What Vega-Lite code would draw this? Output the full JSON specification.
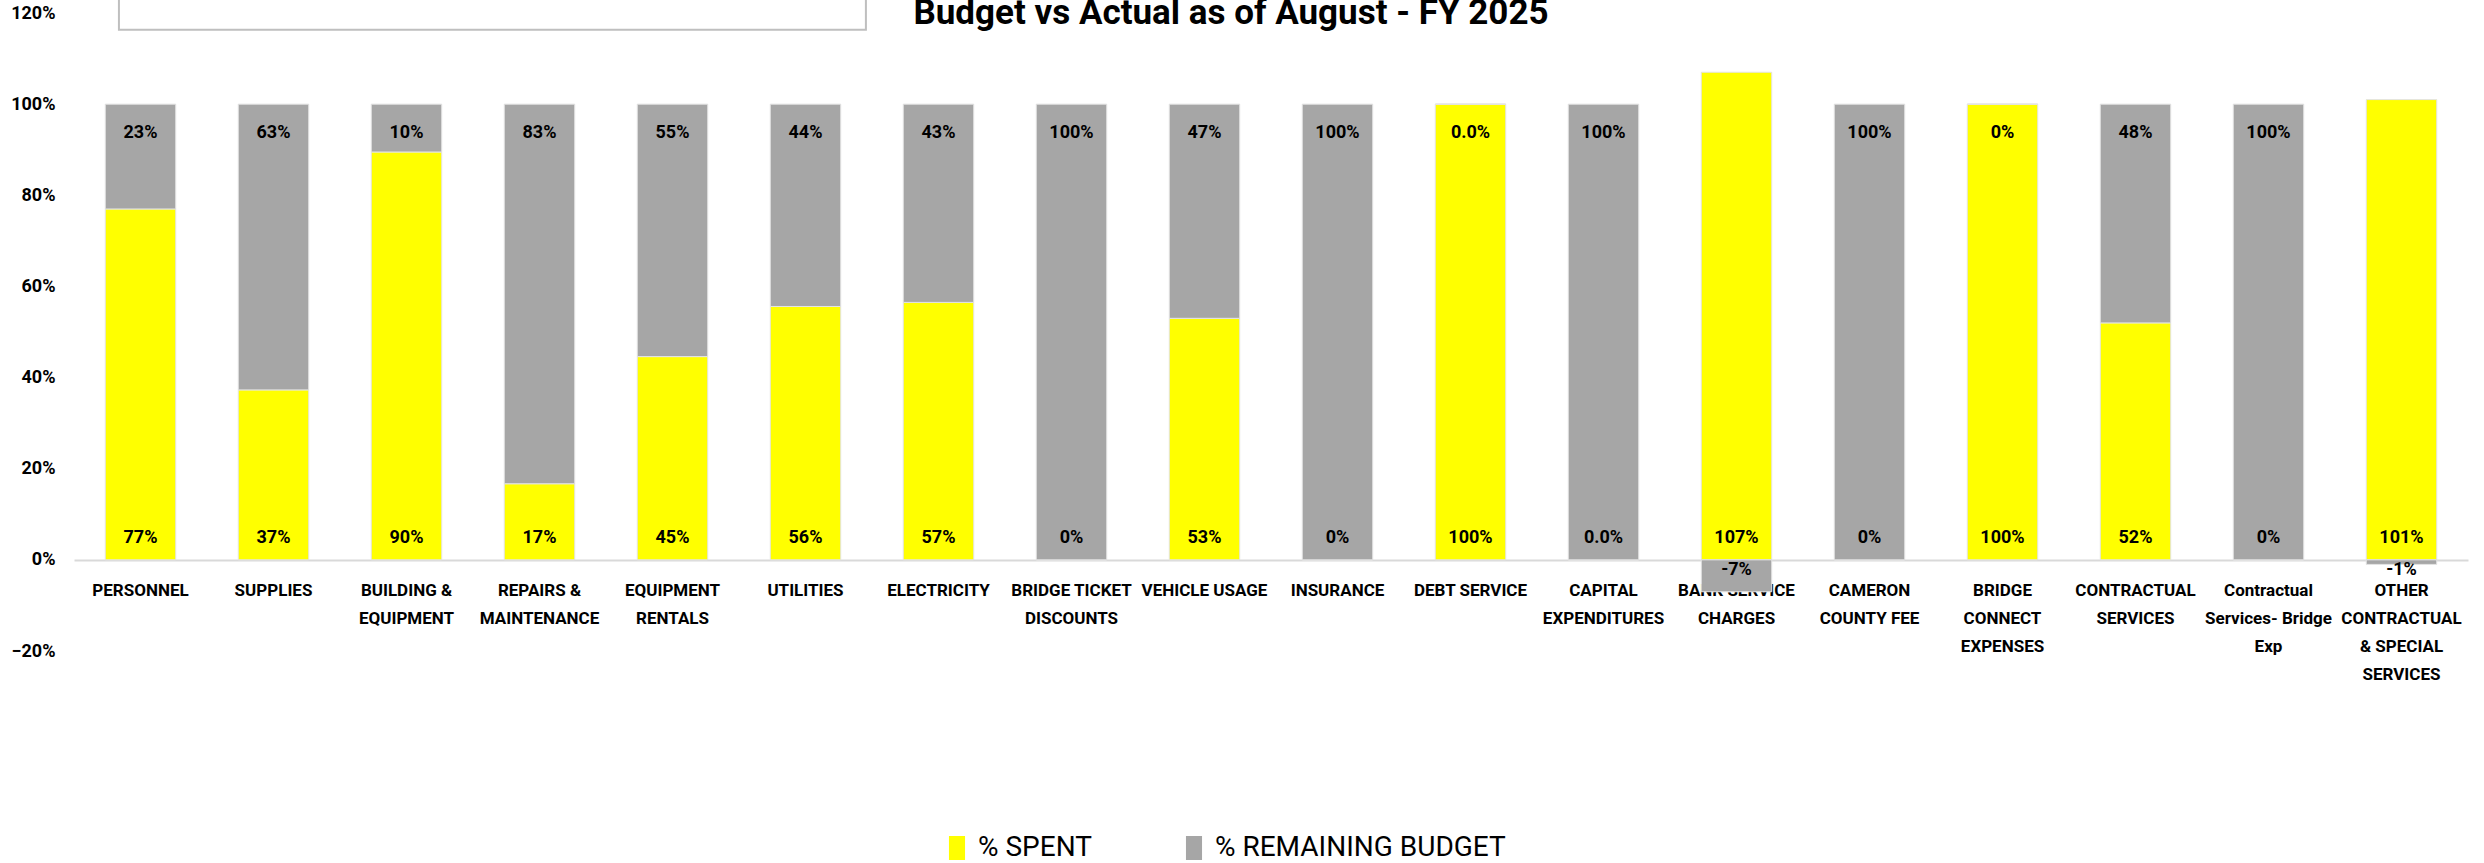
{
  "$schema": "https://vega.github.io/schema/vega-lite/v6.json",
  "width": 2394,
  "height": 638,
  "autosize": {"type": "none"},
  "padding": {"left": 74, "top": 13, "right": 16, "bottom": 212},
  "background": "white",
  "title": {
    "text": "Budget vs Actual as of August - FY 2025",
    "font": "Roboto",
    "fontSize": 35,
    "fontWeight": "bold",
    "color": "#000000",
    "anchor": "middle",
    "frame": "group",
    "dx": -40,
    "baseline": "alphabetic",
    "offset": 0,
    "dy": 65
  },
  "config": {"view": {"stroke": null}, "font": "Roboto"},
  "data": {
    "values": [
      {"category": "PERSONNEL", "series": "% SPENT", "value": 0.77, "label": "77%"},
      {"category": "PERSONNEL", "series": "% REMAINING BUDGET", "value": 0.23, "label": "23%"},
      {"category": "SUPPLIES", "series": "% SPENT", "value": 0.373, "label": "37%"},
      {"category": "SUPPLIES", "series": "% REMAINING BUDGET", "value": 0.627, "label": "63%"},
      {"category": "BUILDING & EQUIPMENT", "series": "% SPENT", "value": 0.895, "label": "90%"},
      {"category": "BUILDING & EQUIPMENT", "series": "% REMAINING BUDGET", "value": 0.105, "label": "10%"},
      {"category": "REPAIRS & MAINTENANCE", "series": "% SPENT", "value": 0.167, "label": "17%"},
      {"category": "REPAIRS & MAINTENANCE", "series": "% REMAINING BUDGET", "value": 0.833, "label": "83%"},
      {"category": "EQUIPMENT RENTALS", "series": "% SPENT", "value": 0.446, "label": "45%"},
      {"category": "EQUIPMENT RENTALS", "series": "% REMAINING BUDGET", "value": 0.554, "label": "55%"},
      {"category": "UTILITIES", "series": "% SPENT", "value": 0.556, "label": "56%"},
      {"category": "UTILITIES", "series": "% REMAINING BUDGET", "value": 0.444, "label": "44%"},
      {"category": "ELECTRICITY", "series": "% SPENT", "value": 0.565, "label": "57%"},
      {"category": "ELECTRICITY", "series": "% REMAINING BUDGET", "value": 0.435, "label": "43%"},
      {"category": "BRIDGE TICKET DISCOUNTS", "series": "% SPENT", "value": 0, "label": "0%"},
      {"category": "BRIDGE TICKET DISCOUNTS", "series": "% REMAINING BUDGET", "value": 1, "label": "100%"},
      {"category": "VEHICLE USAGE", "series": "% SPENT", "value": 0.53, "label": "53%"},
      {"category": "VEHICLE USAGE", "series": "% REMAINING BUDGET", "value": 0.47, "label": "47%"},
      {"category": "INSURANCE", "series": "% SPENT", "value": 0, "label": "0%"},
      {"category": "INSURANCE", "series": "% REMAINING BUDGET", "value": 1, "label": "100%"},
      {"category": "DEBT SERVICE", "series": "% SPENT", "value": 1, "label": "100%"},
      {"category": "DEBT SERVICE", "series": "% REMAINING BUDGET", "value": 0, "label": "0.0%"},
      {"category": "CAPITAL EXPENDITURES", "series": "% SPENT", "value": 0, "label": "0.0%"},
      {"category": "CAPITAL EXPENDITURES", "series": "% REMAINING BUDGET", "value": 1, "label": "100%"},
      {"category": "BANK SERVICE CHARGES", "series": "% SPENT", "value": 1.07, "label": "107%"},
      {"category": "BANK SERVICE CHARGES", "series": "% REMAINING BUDGET", "value": -0.07, "label": "-7%"},
      {"category": "CAMERON COUNTY FEE", "series": "% SPENT", "value": 0, "label": "0%"},
      {"category": "CAMERON COUNTY FEE", "series": "% REMAINING BUDGET", "value": 1, "label": "100%"},
      {"category": "BRIDGE CONNECT EXPENSES", "series": "% SPENT", "value": 1, "label": "100%"},
      {"category": "BRIDGE CONNECT EXPENSES", "series": "% REMAINING BUDGET", "value": 0, "label": "0%"},
      {"category": "CONTRACTUAL SERVICES", "series": "% SPENT", "value": 0.52, "label": "52%"},
      {"category": "CONTRACTUAL SERVICES", "series": "% REMAINING BUDGET", "value": 0.48, "label": "48%"},
      {"category": "Contractual Services- Bridge Exp", "series": "% SPENT", "value": 0, "label": "0%"},
      {"category": "Contractual Services- Bridge Exp", "series": "% REMAINING BUDGET", "value": 1, "label": "100%"},
      {"category": "OTHER CONTRACTUAL & SPECIAL SERVICES", "series": "% SPENT", "value": 1.01, "label": "101%"},
      {"category": "OTHER CONTRACTUAL & SPECIAL SERVICES", "series": "% REMAINING BUDGET", "value": -0.01, "label": "-1%"}
    ]
  },
  "encoding": {
    "x": {
      "field": "category",
      "type": "nominal",
      "sort": null,
      "scale": {"paddingInner": 0.47, "paddingOuter": 0.235},
      "axis": {
        "title": null,
        "orient": "bottom",
        "offset": -91,
        "domainColor": "#d9d9d9",
        "domainWidth": 2,
        "ticks": false,
        "grid": false,
        "labelAngle": 0,
        "labelFont": "Roboto",
        "labelFontSize": 17,
        "labelFontWeight": "bold",
        "labelColor": "#000000",
        "labelPadding": 22,
        "labelLineHeight": 28,
        "labelLimit": 0,
        "labelBaseline": "top",
        "labelExpr": "({'BUILDING & EQUIPMENT':['BUILDING &','EQUIPMENT'],'REPAIRS & MAINTENANCE':['REPAIRS &','MAINTENANCE'],'EQUIPMENT RENTALS':['EQUIPMENT','RENTALS'],'BRIDGE TICKET DISCOUNTS':['BRIDGE TICKET','DISCOUNTS'],'CAPITAL EXPENDITURES':['CAPITAL','EXPENDITURES'],'BANK SERVICE CHARGES':['BANK SERVICE','CHARGES'],'CAMERON COUNTY FEE':['CAMERON','COUNTY FEE'],'BRIDGE CONNECT EXPENSES':['BRIDGE','CONNECT','EXPENSES'],'CONTRACTUAL SERVICES':['CONTRACTUAL','SERVICES'],'Contractual Services- Bridge Exp':['Contractual','Services- Bridge','Exp'],'OTHER CONTRACTUAL & SPECIAL SERVICES':['OTHER','CONTRACTUAL','& SPECIAL','SERVICES']})[datum.value] || datum.label"
      }
    }
  },
  "layer": [
    {
      "mark": {"type": "bar", "stroke": "#e4e4e4", "strokeWidth": 1},
      "encoding": {
        "y": {
          "field": "value",
          "type": "quantitative",
          "stack": "zero",
          "scale": {"domain": [-0.2, 1.2], "nice": false, "zero": false},
          "axis": {
            "title": null,
            "values": [-0.2, 0, 0.2, 0.4, 0.6, 0.8, 1, 1.2],
            "format": ".0%",
            "domain": false,
            "ticks": false,
            "grid": false,
            "labelFont": "Roboto",
            "labelFontSize": 18,
            "labelFontWeight": "bold",
            "labelColor": "#000000",
            "labelPadding": 19
          }
        },
        "color": {
          "field": "series",
          "type": "nominal",
          "scale": {"domain": ["% SPENT", "% REMAINING BUDGET"], "range": ["#FFFF00", "#A6A6A6"]},
          "legend": {
            "orient": "none",
            "legendX": 869,
            "legendY": 821,
            "title": null,
            "direction": "horizontal",
            "labelFont": "Roboto",
            "labelFontSize": 28,
            "labelColor": "#000000",
            "labelLimit": 0,
            "symbolType": "M-0.67,-1H0.67V1H-0.67Z",
            "symbolSize": 576,
            "symbolStrokeWidth": 0,
            "symbolOpacity": 1,
            "columnPadding": 88,
            "labelOffset": 7
          }
        },
        "order": {"field": "series", "sort": "descending"}
      }
    },
    {
      "transform": [{"filter": "datum.series === '% SPENT'"}],
      "mark": {"type": "text", "dy": -22, "baseline": "middle", "font": "Roboto", "fontSize": 18, "fontWeight": "bold", "color": "#000000"},
      "encoding": {"y": {"datum": 0, "type": "quantitative"}, "text": {"field": "label"}}
    },
    {
      "transform": [
        {"stack": "value", "groupby": ["category"], "sort": [{"field": "series", "order": "descending"}], "as": ["v0", "v1"]},
        {"filter": "datum.series === '% REMAINING BUDGET' && datum.value >= 0"}
      ],
      "mark": {"type": "text", "dy": 29, "baseline": "middle", "font": "Roboto", "fontSize": 18, "fontWeight": "bold", "color": "#000000"},
      "encoding": {"y": {"field": "v1", "type": "quantitative"}, "text": {"field": "label"}}
    },
    {
      "transform": [{"filter": "datum.series === '% REMAINING BUDGET' && datum.value < 0"}],
      "mark": {"type": "text", "dy": 10, "baseline": "middle", "font": "Roboto", "fontSize": 18, "fontWeight": "bold", "color": "#000000"},
      "encoding": {"y": {"datum": 0, "type": "quantitative"}, "text": {"field": "label"}}
    },
    {
      "data": {"values": [{"annotation": "text box"}]},
      "mark": {"type": "rect", "fill": "#ffffff", "stroke": "#bfbfbf", "strokeWidth": 2},
      "encoding": {
        "x": {"datum": "PERSONNEL", "type": "nominal", "bandPosition": 0.194},
        "x2": {"datum": "UTILITIES", "bandPosition": 1.357},
        "y": {"datum": 1.163, "type": "quantitative"},
        "y2": {"datum": 1.24}
      }
    }
  ]
}
